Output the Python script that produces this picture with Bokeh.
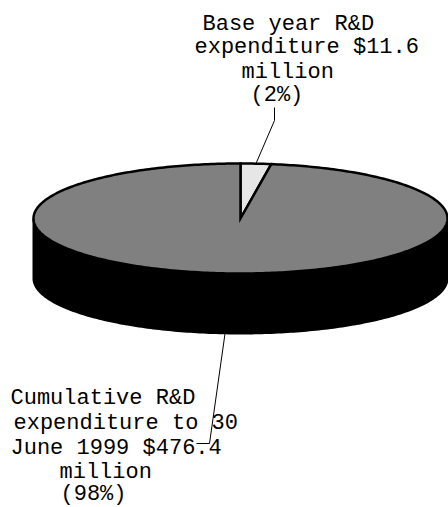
import numpy as np
from bokeh.plotting import figure
from bokeh.models import Range1d
from bokeh.core.properties import value
from bokeh.embed import file_html
from bokeh.resources import INLINE

# ---- data ----
categories = ["Base year R&D expenditure", "Cumulative R&D expenditure to 30 June 1999"]
values = [11.6, 476.4]  # $ million
slice_colors = ["#e6e6e6", "#808080"]
side_color = "#000000"

top_label_lines = ["Base year R&D", "expenditure $11.6", "million", "(2%)"]
bottom_label_lines = ["Cumulative R&D", "expenditure to 30", "June 1999 $476.4", "million", "(98%)"]

# ---- layout (page pixel coordinates) ----
W, H = 448, 507
cx, cy = 240.0, 218.0
rx, ry = 207.0, 55.0
depth = 60.0

p = figure(width=W, height=H, output_backend="svg", toolbar_location=None,
           x_range=Range1d(0, W), y_range=Range1d(H, 0),
           min_border=0, outline_line_color=None)
p.axis.visible = False
p.grid.visible = False
p.background_fill_color = "white"
p.border_fill_color = "white"


def ell(t, dy=0.0):
    return cx + rx * np.sin(t), cy - ry * np.cos(t) + dy

total = float(sum(values))
fracs = [v / total for v in values]
starts = np.cumsum([0.0] + fracs[:-1]) * 2 * np.pi
ends = np.cumsum(fracs) * 2 * np.pi

# side (visible front half, from right extreme through bottom to left extreme)
ts = np.linspace(np.pi / 2, 3 * np.pi / 2, 200)
xt, yt = ell(ts)
xb, yb = ell(ts[::-1], depth)
p.patch(list(xt) + list(xb), list(yt) + list(yb), fill_color=side_color,
        line_color="black", line_width=2)

# top slices
xs, ys = [], []
for s, e in zip(starts, ends):
    t = np.linspace(s, e, max(4, int((e - s) / (2 * np.pi) * 400)))
    x, y = ell(t)
    xs.append([cx] + list(x) + [cx])
    ys.append([cy] + list(y) + [cy])
p.patches(xs, ys, fill_color=slice_colors, line_color="black", line_width=2.5,
          line_join="miter")

# leader lines
m0 = (starts[0] + ends[0]) / 2
ax0, ay0 = ell(m0)
p.line([ax0, 274, 274], [ay0, 120, 107], line_color="black", line_width=1)
m1 = (starts[1] + ends[1]) / 2
ax1, ay1 = ell(m1, depth)
p.line([ax1, 209, 196], [ay1, 443, 443], line_color="black", line_width=1)

# labels
font = value("Liberation Mono")
p.text(x=[202, 194, 241, 250], y=[23.5, 47, 71.5, 95], text=top_label_lines,
       text_font=font, text_font_size="22px", text_color="black",
       text_align="left", text_baseline="alphabetic")
p.text(x=[10, 13, 10, 59, 60], y=[398, 423, 448, 472, 494], text=bottom_label_lines,
       text_font=font, text_font_size="22px", text_color="black",
       text_align="left", text_baseline="alphabetic")

open("out.html", "w").write(file_html(p, INLINE))
